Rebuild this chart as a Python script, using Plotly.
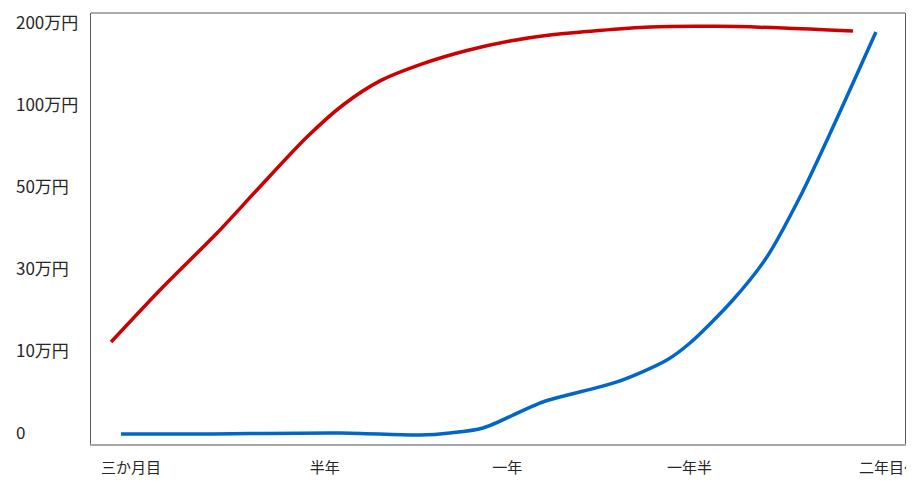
import plotly.graph_objects as go

# x in "tick units" (三か月目 = 0), y in index of the stepped yen scale
x_ticks = [0.0, 1.02, 1.98, 2.94, 3.99]
x_labels = ["三か月目", "半年", "一年", "一年半", "二年目〜"]
y_ticks = [0, 1, 2, 3, 4, 5]
y_labels = ["0", "10万円", "30万円", "50万円", "100万円", "200万円"]

red_x = [-0.105, 0.168, 0.453, 0.663, 0.926, 1.116, 1.311, 1.537, 1.768, 1.995, 2.205, 2.732, 3.084, 3.432, 3.800]
red_y = [1.085, 1.756, 2.415, 2.939, 3.585, 3.976, 4.270, 4.480, 4.640, 4.756, 4.829, 4.927, 4.935, 4.915, 4.878]

blue_x = [-0.053, 0.363, 1.100, 1.521, 1.679, 1.853, 2.168, 2.558, 2.821, 2.942, 3.168, 3.347, 3.521, 3.695, 3.921]
blue_y = [-0.037, -0.037, -0.024, -0.049, -0.024, 0.037, 0.354, 0.598, 0.866, 1.073, 1.598, 2.122, 2.854, 3.707, 4.866]

font = "Noto Sans CJK JP"

fig = go.Figure()
fig.add_trace(go.Scatter(x=red_x, y=red_y, mode="lines",
                         line=dict(color="#cc0000", width=3.5, shape="spline", smoothing=0.8)))
fig.add_trace(go.Scatter(x=blue_x, y=blue_y, mode="lines",
                         line=dict(color="#0066cc", width=3.5, shape="spline", smoothing=0.8)))

# left-aligned y labels
for v, t in zip(y_ticks, y_labels):
    fig.add_annotation(x=-0.0946, xref="paper", y=v, yref="y", text=t, showarrow=False,
                       xanchor="left", yanchor="middle",
                       font=dict(family=font, size=17, color="#262626"))

fig.add_shape(type="line", xref="paper", yref="paper", x0=0, x1=1, y0=1, y1=1,
              line=dict(color="#595959", width=1))

# page body has an 8px margin, so the figure is shifted; margins compensate
fig.update_layout(
    width=898, height=496,
    margin=dict(l=83, r=1, t=5, b=60),
    paper_bgcolor="white", plot_bgcolor="white",
    showlegend=False,
    font=dict(family=font, size=15, color="#262626"),
)
fig.update_xaxes(range=[-0.2105, 4.074], tickvals=x_ticks, ticktext=x_labels,
                 showgrid=False, zeroline=False, ticks="", ticklabelstandoff=9,
                 ticklabeloverflow="allow",
                 showline=True, linecolor="#a6a6a6", linewidth=1.5, automargin=False,
                 tickfont=dict(family=font, size=15, color="#262626"))
fig.update_yaxes(range=[-0.1585, 5.098], tickvals=y_ticks, showticklabels=False,
                 showgrid=False, zeroline=False, ticks="",
                 showline=True, mirror=True, linecolor="#595959", linewidth=1, automargin=False)

fig.write_html("out.html")
